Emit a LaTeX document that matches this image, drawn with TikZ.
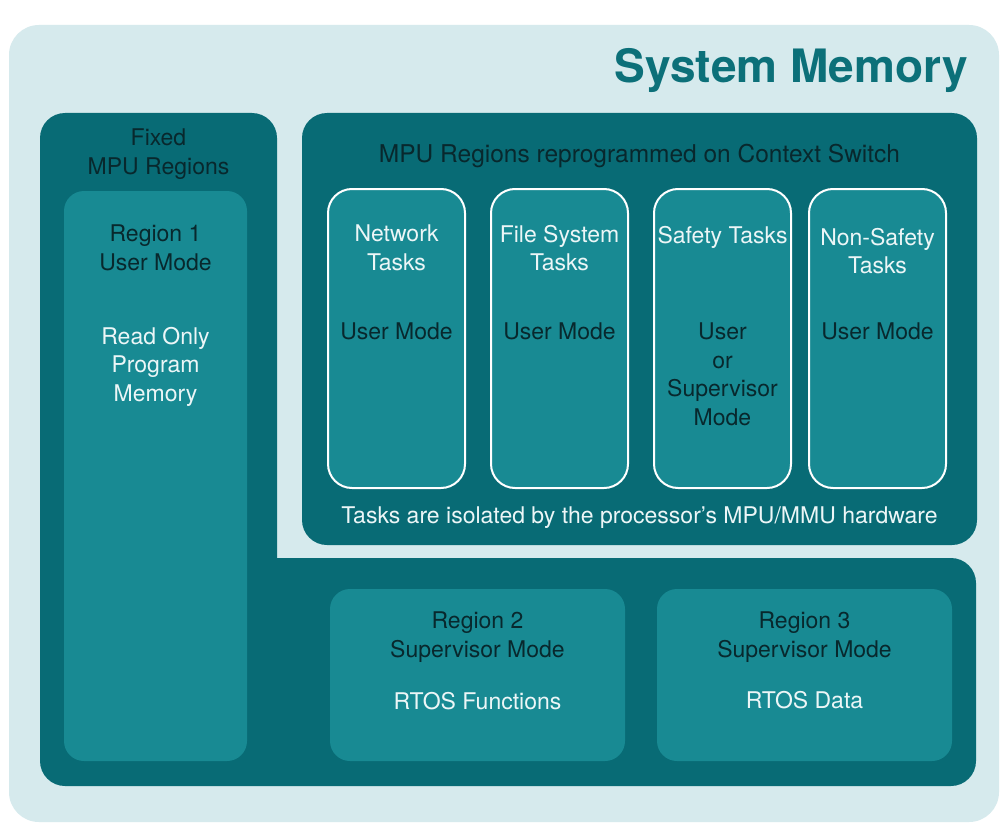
\documentclass[tikz,border=0pt]{standalone}
\usepackage{fontspec}
\setmainfont{TeX Gyre Heros}
\usepackage{xcolor}
\usepackage{tikz}
\usetikzlibrary{positioning}

\definecolor{memlight}{RGB}{214,234,237}
\definecolor{memdark}{RGB}{8,107,117}
\definecolor{memmid}{RGB}{24,138,147}
\definecolor{memtitle}{RGB}{12,112,121}
\definecolor{memink}{RGB}{8,40,45}
\definecolor{mempale}{RGB}{236,246,247}

\newcommand{\lbl}{\fontsize{23}{28.5}\selectfont}

\tikzset{
    rbox/.style={fill=memmid, rounded corners=20, inner sep=0, minimum width=295, minimum height=172},
    taskbox/.style={fill=memmid, draw=white, line width=2pt, rounded corners=24, inner sep=0, minimum width=137, minimum height=299},
    dlabel/.style={text=memink, align=center, inner sep=0, font=\lbl},
    wlabel/.style={text=mempale, align=center, inner sep=0, font=\lbl}
}

\begin{document}
\begin{tikzpicture}[x=1pt, y=-1pt]
    \fill[white] (0,0) rectangle (1000,832);
    \useasboundingbox (0,0) rectangle (1000,832);

    % system memory
    \node[fill=memlight, rounded corners=30, minimum width=990, minimum height=797] (mem) at (504,423.5) {};
    \node[text=memtitle, font=\fontsize{46}{50}\selectfont\bfseries, anchor=east, inner sep=0] (title) at (968,70) {System Memory};

    % fixed regions + RTOS regions (L shape)
    \draw[fill=memdark, draw=none, rounded corners=25] (40,113) -- (277,113) [sharp corners] -- (277,558) [rounded corners=25] -- (976,558) -- (976,786) -- (40,786) -- cycle;
    \coordinate (fixed) at (158.5,113);
    \node[dlabel, below=16pt of fixed] (fixedlbl) {Fixed\\MPU Regions};

    % context switch regions
    \node[fill=memdark, rounded corners=25, minimum width=675, minimum height=432] (ctx) at (639.5,329) {};
    \node[dlabel, font=\fontsize{24.5}{28.5}\selectfont, below=31pt of ctx.north] (ctxlbl) {MPU Regions reprogrammed on Context Switch};
    \node[wlabel, above=16pt of ctx.south] (isolbl) {Tasks are isolated by the processor's MPU/MMU hardware};

    \node[taskbox] (net) at (396.5,338.5) {};
    \node[taskbox] (fs) at (559.5,338.5) {};
    \node[taskbox] (safe) at (722.5,338.5) {};
    \node[taskbox] (nonsafe) at (877.5,338.5) {};

    \node[wlabel, below=37pt of net.north] (netlbl) {Network\\Tasks};
    \node[dlabel, below=135pt of net.north] (netmode) {User Mode};
    \node[wlabel, below=37pt of fs.north] (fslbl) {File System\\Tasks};
    \node[dlabel, below=135pt of fs.north] (fsmode) {User Mode};
    \node[wlabel, below=38pt of safe.north] (safelbl) {Safety Tasks};
    \node[dlabel, below=135pt of safe.north] (safemode) {User\\or\\Supervisor\\Mode};
    \node[wlabel, below=40pt of nonsafe.north] (nonsafelbl) {Non-Safety\\Tasks};
    \node[dlabel, below=135pt of nonsafe.north] (nonsafemode) {User Mode};

    % region boxes
    \node[rbox, minimum width=183, minimum height=570] (reg1) at (155.5,476) {};
    \node[dlabel, below=34pt of reg1.north] (reg1lbl) {Region 1\\User Mode};
    \node[wlabel, below=136pt of reg1.north] (reg1mem) {Read Only\\Program\\Memory};

    \node[rbox] (reg2) at (477.5,675) {};
    \node[dlabel, below=23pt of reg2.north] (reg2lbl) {Region 2\\Supervisor Mode};
    \node[wlabel, below=103pt of reg2.north] (reg2mem) {RTOS Functions};

    \node[rbox] (reg3) at (804.5,675) {};
    \node[dlabel, below=23pt of reg3.north] (reg3lbl) {Region 3\\Supervisor Mode};
    \node[wlabel, below=102pt of reg3.north] (reg3mem) {RTOS Data};
\end{tikzpicture}
\end{document}
